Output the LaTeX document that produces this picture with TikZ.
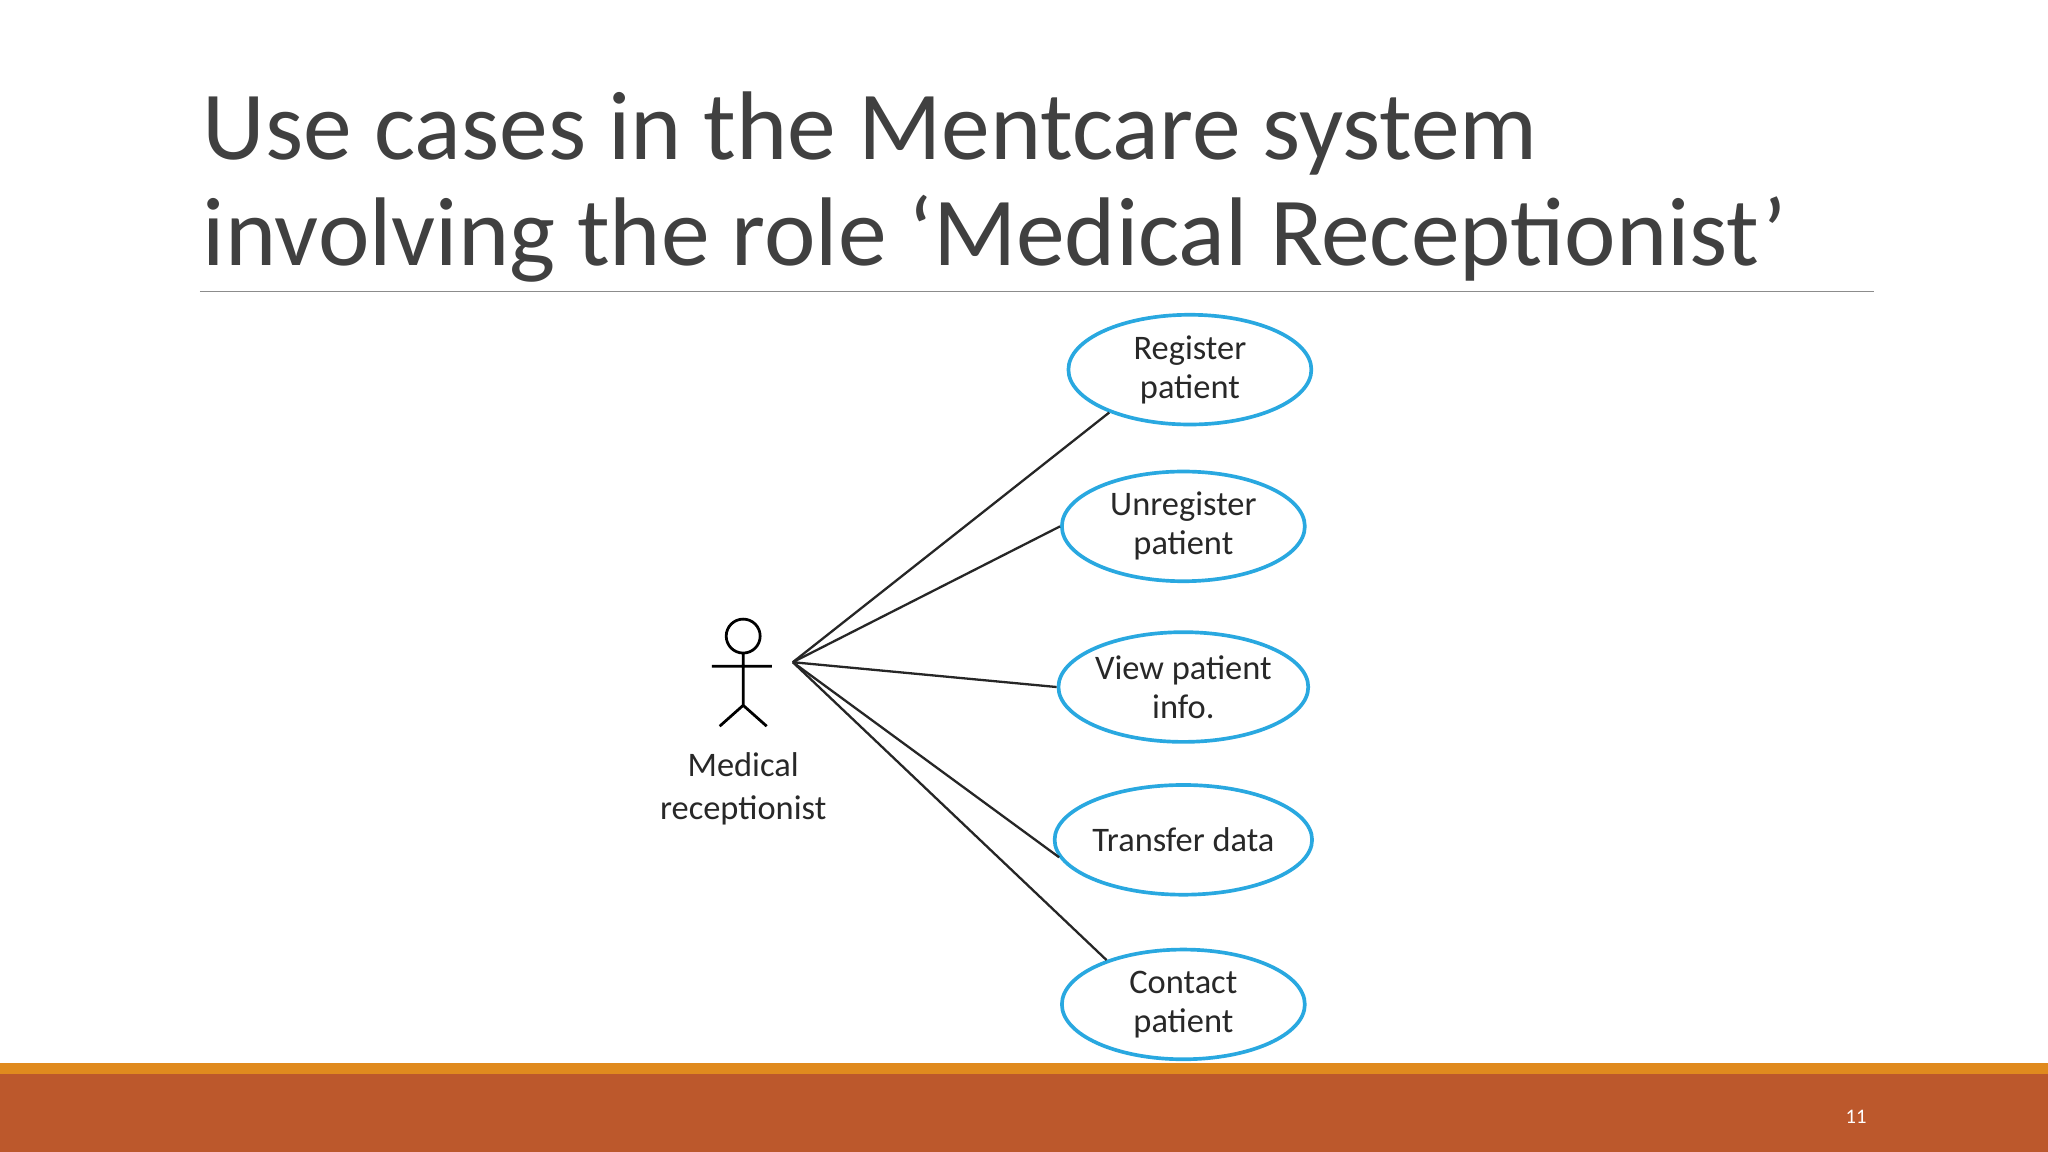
\documentclass[tikz,border=0pt]{standalone}
\usepackage{fontspec}
\setmainfont{Carlito}
\usetikzlibrary{shapes.geometric}
\definecolor{cyanuc}{RGB}{41,168,224}
\definecolor{barA}{RGB}{224,138,30}
\definecolor{barB}{RGB}{188,88,44}
\definecolor{ttl}{RGB}{64,64,64}
\definecolor{txt}{RGB}{40,40,40}
\begin{document}
\begin{tikzpicture}[x=0.02cm,y=-0.02cm,
  uc/.style={draw=cyanuc,line width=1.6pt,ellipse,minimum width=186*0.02cm,minimum height=84*0.02cm,inner sep=0pt,align=center,font=\fontsize{15}{17}\selectfont,text=txt},
  conn/.style={line width=1pt,black!85}]
\useasboundingbox (0,0) rectangle (1568,882);
\fill[white] (0,0) rectangle (1568,882);
\fill[barA] (0,814) rectangle (1568,822);
\fill[barB] (0,822) rectangle (1568,882);
\node[white,font=\fontsize{9}{10}\selectfont] (pg) at (1421,855) {11};
\node[anchor=base west,inner sep=0pt,align=left,text=ttl,font=\fontsize{42.5}{46}\selectfont] (title) at (155,203) {Use cases in the Mentcare system\\involving the role ‘Medical Receptionist’};
\draw[black!45,line width=0.6pt] (153,223) -- (1435,223);
\draw[line width=1.2pt] (569,487) circle (13);
\draw[line width=1.2pt] (569,500) -- (569,540) (545,510) -- (591,510) (551,556) -- (569,540) -- (587,556);
\node[align=center,font=\fontsize{15}{19}\selectfont,text=txt] (lab) at (569,604) {Medical\\receptionist};
\coordinate (h) at (607,507);
\node[uc] (u1) at (911,283) {Register\\patient};
\node[uc] (u2) at (906,403) {Unregister\\patient};
\node[uc] (u3) at (906,526) {View patient\\info.};
\node[uc] (u4) at (906,643) {Transfer data};
\node[uc] (u5) at (906,769) {Contact\\patient};
\draw[conn] (h) -- (u1.208);
\draw[conn] (h) -- (u2.west);
\draw[conn] (h) -- (u3.west);
\draw[conn] (h) -- (u4.188);
\draw[conn] (h) -- (u5.150);
\end{tikzpicture}
\end{document}
